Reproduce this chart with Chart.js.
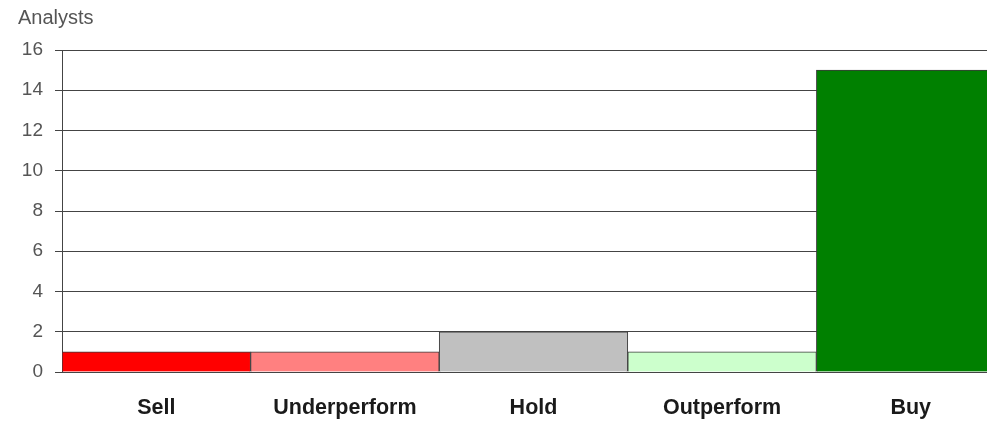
<!DOCTYPE html>
<html>
<head>
<meta charset="utf-8">
<title>Analyst ratings</title>
<script src="https://cdn.jsdelivr.net/npm/chart.js@4"></script>
<style>
  html, body { margin: 0; padding: 0; background: #fff; overflow: hidden; }
  #wrap { width: 1005px; height: 422px; }
</style>
</head>
<body>
<div id="wrap"><canvas id="ratingChart" width="1005" height="422"></canvas></div>
<script>
// ratings and analyst counts
const ratings = ['Sell', 'Underperform', 'Hold', 'Outperform', 'Buy'];
const analysts = [1, 1, 2, 1, 15];
const barColors = ['#FF0000', '#FF8080', '#C0C0C0', '#CCFFCC', '#008000'];
const yMax = 16;
const yStep = 2;

const canvas = document.getElementById('ratingChart');

new Chart(canvas.getContext('2d'), {
    type: 'bar',
    data: {
        labels: ratings,
        datasets: [{
            label: 'Analysts',
            data: analysts,
            backgroundColor: barColors,
            borderColor: '#3a3a3a',
            borderWidth: 1,
            categoryPercentage: 1,
            barPercentage: 1
        }]
    },
    options: {
        responsive: false,
        animation: false,
        layout: { padding: { left: 18, right: 0, top: 0, bottom: 3 } },
        plugins: {
            legend: { display: false },
            tooltip: { enabled: false },
            title: {
                display: true,
                text: 'Analysts',
                align: 'start',
                color: '#555',
                font: { family: 'Liberation Sans, Arial, sans-serif', size: 20, weight: 'normal' },
                padding: { top: 6, bottom: 20 }
            }
        },
        scales: {
            x: {
                afterFit(scale) { scale.height = 47; },
                grid: { display: false, drawTicks: false },
                border: { display: false },
                ticks: {
                    color: '#1a1a1a',
                    padding: 23,
                    font: { family: 'Liberation Sans, Arial, sans-serif', size: 21.5, weight: 'bold' }
                }
            },
            y: {
                min: 0,
                max: yMax,
                afterFit(scale) { scale.width = 44; },
                grid: { color: '#444', lineWidth: 1, tickLength: 7 },
                border: { display: true, color: '#444', width: 1 },
                ticks: {
                    stepSize: yStep,
                    color: '#555',
                    padding: 12,
                    font: { family: 'Liberation Sans, Arial, sans-serif', size: 19 }
                }
            }
        }
    }
});
</script>
</body>
</html>
